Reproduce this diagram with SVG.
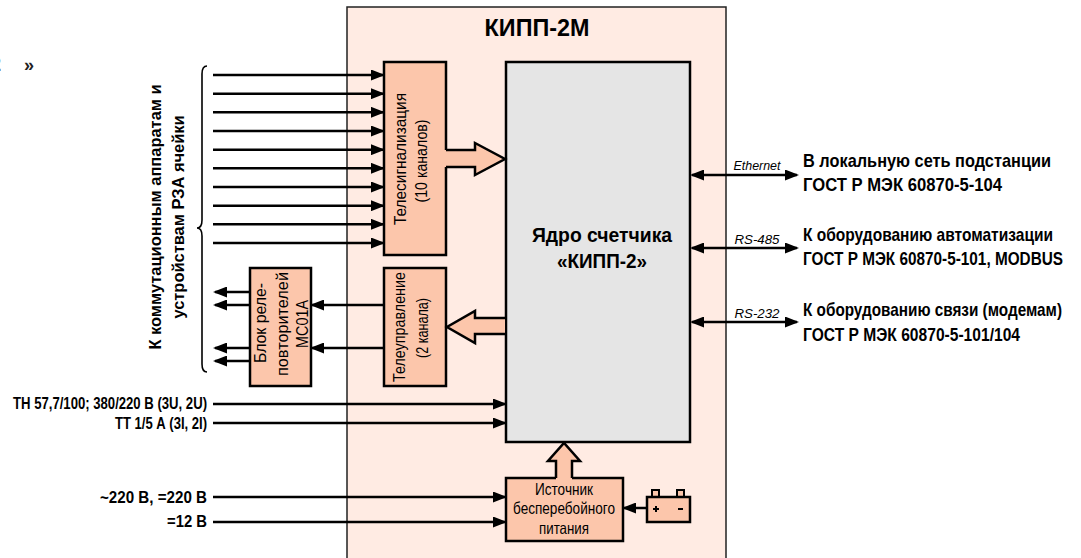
<svg xmlns="http://www.w3.org/2000/svg" width="1081" height="558" viewBox="0 0 1081 558">
<style>
text{font-family:"Liberation Sans",Arial,sans-serif;fill:#000}
.b{font-weight:bold}
.box{fill:#FCC6AB;stroke:#000;stroke-width:2.5}
.ln{fill:none;stroke:#000;stroke-width:2.5}
.big{fill:#FCC6AB;stroke:none}
.bigl{fill:none;stroke:#000;stroke-width:2.5;stroke-linejoin:miter}
.it{font-style:italic;font-size:12px}
.rt{font-weight:bold;font-size:18.5px}
.bx{font-size:16.5px}
</style>
<defs>
<marker id="ah" viewBox="0 0 14 11" refX="12" refY="5.5" markerWidth="14" markerHeight="11" markerUnits="userSpaceOnUse" orient="auto-start-reverse">
<path d="M0,0 L14,5.5 L0,11 z" fill="#000"/>
</marker>
</defs>
<rect width="1081" height="558" fill="#fff"/>
<text x="-10" y="71" style="font-size:20px;fill:#444" class="b">2</text>
<text x="24" y="71" style="font-size:18px;fill:#222" class="b">»</text>

<g id="kipp2m">
<rect x="347" y="7" width="379" height="570" fill="#FFEBE3" stroke="#222" stroke-width="1.5"/>
<text transform="translate(537,36) scale(0.8,1)" class="b" text-anchor="middle" font-size="23" textLength="131" lengthAdjust="spacingAndGlyphs">КИПП-2М</text>
</g>

<g id="core">
<rect x="506" y="62" width="184" height="380" fill="#E5E5E5" stroke="#000" stroke-width="2.5"/>
<text transform="translate(602,242) scale(0.85,1)" class="b" text-anchor="middle" font-size="19.5" textLength="165" lengthAdjust="spacingAndGlyphs">Ядро счетчика</text>
<text transform="translate(602,268) scale(0.85,1)" class="b" text-anchor="middle" font-size="19.5" textLength="106" lengthAdjust="spacingAndGlyphs">«КИПП-2»</text>
</g>

<g id="telesignal">
<rect x="384" y="62" width="62" height="193" class="box"/>
<text transform="translate(406,159) rotate(-90)" class="bx" text-anchor="middle" textLength="132" lengthAdjust="spacingAndGlyphs">Телесигнализация</text>
<text transform="translate(427,161) rotate(-90)" class="bx" text-anchor="middle" textLength="83" lengthAdjust="spacingAndGlyphs">(10 каналов)</text>
</g>

<g id="telecontrol">
<rect x="384" y="268" width="62" height="118" class="box"/>
<text transform="translate(405,327) rotate(-90)" class="bx" text-anchor="middle" textLength="110" lengthAdjust="spacingAndGlyphs">Телеуправление</text>
<text transform="translate(428,328) rotate(-90)" class="bx" text-anchor="middle" textLength="60" lengthAdjust="spacingAndGlyphs">(2 канала)</text>
</g>

<g id="relay">
<rect x="250" y="268" width="61" height="118" class="box"/>
<text transform="translate(266,323) rotate(-90)" class="bx" text-anchor="middle" textLength="80" lengthAdjust="spacingAndGlyphs">Блок реле-</text>
<text transform="translate(288,324) rotate(-90)" class="bx" text-anchor="middle" textLength="104" lengthAdjust="spacingAndGlyphs">повторителей</text>
<text transform="translate(308,324) rotate(-90)" class="bx" text-anchor="middle" textLength="48" lengthAdjust="spacingAndGlyphs">МС01А</text>
</g>

<g id="ups">
<rect x="506" y="478" width="117" height="63" class="box"/>
<text x="564" y="495" class="bx" text-anchor="middle" textLength="58" lengthAdjust="spacingAndGlyphs">Источник</text>
<text x="564" y="514" class="bx" text-anchor="middle" textLength="102" lengthAdjust="spacingAndGlyphs">бесперебойного</text>
<text x="564" y="534" class="bx" text-anchor="middle" textLength="50" lengthAdjust="spacingAndGlyphs">питания</text>
</g>

<g id="battery">
<rect x="652" y="490" width="7" height="7" fill="#FCC6AB" stroke="#000" stroke-width="2"/>
<rect x="677" y="490" width="7" height="7" fill="#FCC6AB" stroke="#000" stroke-width="2"/>
<rect x="647" y="497" width="43" height="25" class="box"/>
<path d="M653,509 h6 M656,506 v6 M678,509 h5" stroke="#000" stroke-width="2" fill="none"/>
</g>

<g id="left-label">
<path d="M207,66 Q202,66 202,74 L202,220 Q202,228 197,228 Q202,228 202,236 L202,364 Q202,372 207,372" fill="none" stroke="#000" stroke-width="1.6"/>
<text transform="translate(161,217) rotate(-90) scale(0.85,1)" class="b" text-anchor="middle" font-size="17" textLength="312" lengthAdjust="spacingAndGlyphs">К коммутационным аппаратам и</text>
<text transform="translate(184,217) rotate(-90) scale(0.85,1)" class="b" text-anchor="middle" font-size="17" textLength="239" lengthAdjust="spacingAndGlyphs">устройствам РЗА ячейки</text>
</g>

<g id="inputs-labels">
<text transform="translate(207,409) scale(0.8,1)" class="b" text-anchor="end" font-size="16" textLength="242.5" lengthAdjust="spacingAndGlyphs">ТН 57,7/100; 380/220 В (3U, 2U)</text>
<text transform="translate(207,429) scale(0.8,1)" class="b" text-anchor="end" font-size="16" textLength="115" lengthAdjust="spacingAndGlyphs">ТТ 1/5 А (3I, 2I)</text>
<text transform="translate(207,503) scale(0.8,1)" class="b" text-anchor="end" font-size="16" textLength="133.75" lengthAdjust="spacingAndGlyphs">~220 В, =220 В</text>
<text transform="translate(207,527) scale(0.8,1)" class="b" text-anchor="end" font-size="16" textLength="50" lengthAdjust="spacingAndGlyphs">=12 В</text>
</g>

<g id="interfaces-labels">
<text transform="translate(803,167) scale(0.8,1)" class="rt" textLength="310" lengthAdjust="spacingAndGlyphs">В локальную сеть подстанции</text>
<text transform="translate(803,191) scale(0.8,1)" class="rt" textLength="248.75" lengthAdjust="spacingAndGlyphs">ГОСТ Р МЭК 60870-5-104</text>
<text transform="translate(803,241) scale(0.8,1)" class="rt" textLength="312.5" lengthAdjust="spacingAndGlyphs">К оборудованию автоматизации</text>
<text transform="translate(803,265) scale(0.8,1)" class="rt" textLength="325" lengthAdjust="spacingAndGlyphs">ГОСТ Р МЭК 60870-5-101, MODBUS</text>
<text transform="translate(803,316) scale(0.8,1)" class="rt" textLength="323.75" lengthAdjust="spacingAndGlyphs">К оборудованию связи (модемам)</text>
<text transform="translate(803,341) scale(0.8,1)" class="rt" textLength="271.25" lengthAdjust="spacingAndGlyphs">ГОСТ Р МЭК 60870-5-101/104</text>
</g>

<g id="connectors">
<g class="ln" marker-end="url(#ah)">
<line x1="213" y1="75" x2="383" y2="75"/>
<line x1="213" y1="93.7" x2="383" y2="93.7"/>
<line x1="213" y1="112.3" x2="383" y2="112.3"/>
<line x1="213" y1="131" x2="383" y2="131"/>
<line x1="213" y1="149.7" x2="383" y2="149.7"/>
<line x1="213" y1="168.3" x2="383" y2="168.3"/>
<line x1="213" y1="187" x2="383" y2="187"/>
<line x1="213" y1="205.7" x2="383" y2="205.7"/>
<line x1="213" y1="224.3" x2="383" y2="224.3"/>
<line x1="213" y1="243" x2="383" y2="243"/>
<line x1="384" y1="305" x2="312" y2="305"/>
<line x1="384" y1="348" x2="312" y2="348"/>
<line x1="250" y1="292" x2="215" y2="292"/>
<line x1="250" y1="305" x2="215" y2="305"/>
<line x1="250" y1="348" x2="215" y2="348"/>
<line x1="250" y1="361" x2="215" y2="361"/>
<line x1="213" y1="404" x2="505" y2="404"/>
<line x1="213" y1="423" x2="505" y2="423"/>
<line x1="213" y1="497" x2="505" y2="497"/>
<line x1="213" y1="522" x2="505" y2="522"/>
<line x1="647" y1="508" x2="624" y2="508"/>
</g>
<g class="ln" marker-start="url(#ah)" marker-end="url(#ah)">
<line x1="692" y1="175" x2="797" y2="175"/>
<line x1="692" y1="248" x2="797" y2="248"/>
<line x1="692" y1="322" x2="797" y2="322"/>
</g>
<text x="757" y="170" class="it" text-anchor="middle" textLength="47" lengthAdjust="spacingAndGlyphs">Ethernet</text>
<text x="757" y="244" class="it" text-anchor="middle" textLength="45" lengthAdjust="spacingAndGlyphs">RS-485</text>
<text x="757" y="318" class="it" text-anchor="middle" textLength="45" lengthAdjust="spacingAndGlyphs">RS-232</text>

<polygon class="big" points="444,150 475,150 475,143 505,159 475,175 475,167 444,167"/>
<polyline class="bigl" points="446,150 475,150 475,143 505,159 475,175 475,167 446,167"/>
<polygon class="big" points="505,318 475,318 475,311 447,327 475,343 475,334 505,334"/>
<polyline class="bigl" points="505,318 475,318 475,311 447,327 475,343 475,334 505,334"/>
<polygon class="big" points="556,480 556,461 548,461 564,443 580,461 572,461 572,480"/>
<polyline class="bigl" points="556,478 556,461 548,461 564,443 580,461 572,461 572,478"/>
</g>
</svg>
